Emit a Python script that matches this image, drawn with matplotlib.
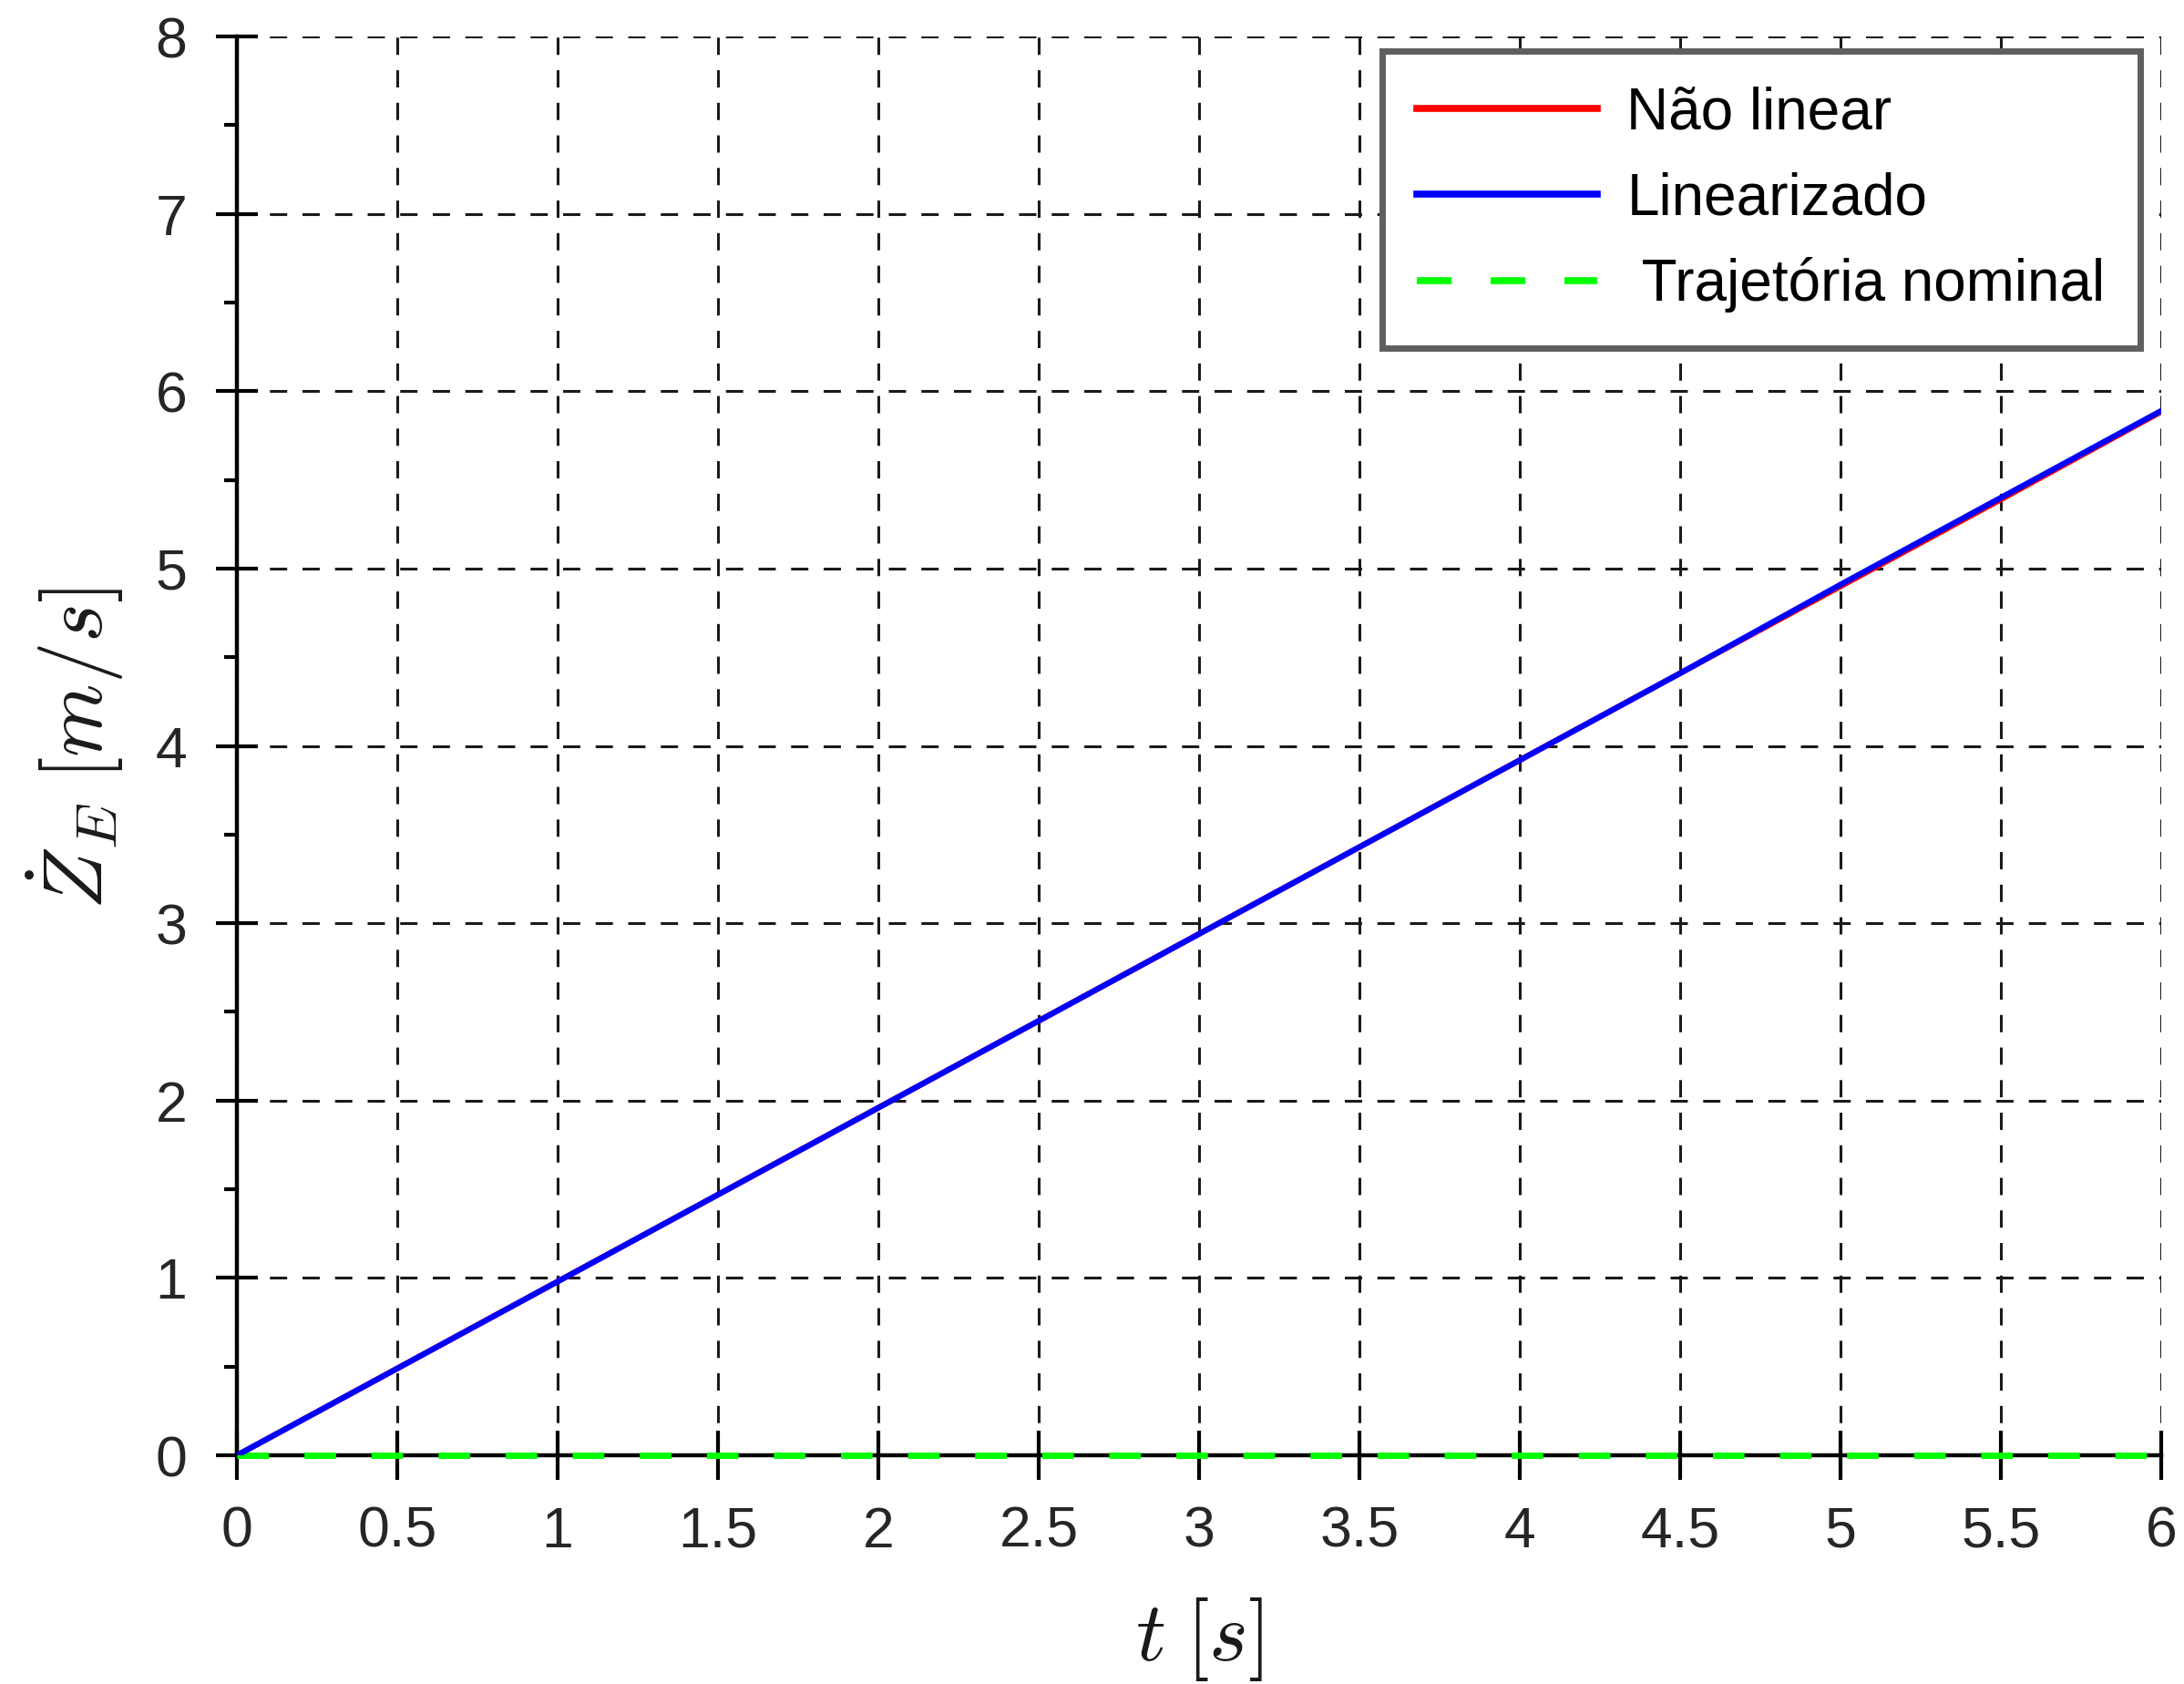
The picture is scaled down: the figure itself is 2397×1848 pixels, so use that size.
import matplotlib
matplotlib.use("Agg")
import matplotlib.pyplot as plt
from matplotlib.ticker import MultipleLocator

# Time samples [s]
t = [0.0, 0.5, 1.0, 1.5, 2.0, 2.5, 3.0, 3.5, 4.0, 4.5, 5.0, 5.5, 6.0]
# Vertical velocity, non-linear model [m/s]
zdot_nonlinear = [0.00, 0.49, 0.98, 1.47, 1.96, 2.45, 2.94, 3.43, 3.92, 4.41, 4.90, 5.39, 5.885]
# Vertical velocity, linearized model [m/s]
zdot_linear = [0.00, 0.49, 0.98, 1.47, 1.96, 2.45, 2.94, 3.43, 3.92, 4.41, 4.91, 5.40, 5.89]
# Nominal trajectory [m/s]
zdot_nominal = [0.0] * 13

labels = ["Não linear", "Linearizado", " Trajetória nominal"]
x_ticks = [0, 0.5, 1, 1.5, 2, 2.5, 3, 3.5, 4, 4.5, 5, 5.5, 6]
x_tick_labels = ["0", "0.5", "1", "1.5", "2", "2.5", "3", "3.5", "4", "4.5", "5", "5.5", "6"]
y_ticks = [0, 1, 2, 3, 4, 5, 6, 7, 8]

plt.rcParams["font.family"] = ["Liberation Sans", "DejaVu Sans"]
plt.rcParams["mathtext.fontset"] = "cm"

fig = plt.figure(figsize=(23.97, 18.48), dpi=100)
ax = fig.add_axes([0.1085, 0.1358, 0.8811, 0.8425])

ax.plot(t, zdot_nonlinear, color="#ff0000", lw=4.5, zorder=3.5, label=labels[0])
ax.plot(t, zdot_linear, color="#0000ff", lw=4.5, zorder=4, label=labels[1])
ax.plot(t, zdot_nominal, color="#00ff00", lw=5.0, linestyle=(0, (5.0, 5.6)),
        zorder=3, clip_on=False, label=labels[2])

ax.set_xlim(0, 6)
ax.set_ylim(0, 8)
ax.set_xticks(x_ticks)
ax.set_xticklabels(x_tick_labels)
ax.set_yticks(y_ticks)
ax.yaxis.set_minor_locator(MultipleLocator(0.5))

ax.grid(True, which="major", color="#1a1a1a", linestyle=(0, (6.2, 5.5)), linewidth=2.2)

for side in ("top", "right"):
    ax.spines[side].set_visible(False)
for side in ("left", "bottom"):
    ax.spines[side].set_linewidth(3.2)
    ax.spines[side].set_color("black")

ax.tick_params(axis="y", which="major", direction="inout", length=33, width=3,
               pad=23, labelsize=45, labelcolor="#262626")
ax.tick_params(axis="y", which="minor", direction="out", length=10, width=3)
ax.tick_params(axis="x", which="major", direction="inout", length=39, width=3,
               pad=20, labelsize=45, labelcolor="#262626")

ax.set_xlabel(r"$t\;[s]$", fontsize=66, color="#1a1a1a")
ax.set_ylabel(r"$\dot{Z}_E\;[m/s]$", fontsize=66, color="#1a1a1a")
ax.xaxis.set_label_coords(0.5, -0.099)
ax.yaxis.set_label_coords(-0.058, 0.498)

leg = ax.legend(loc="upper right", bbox_to_anchor=(0.989, 0.9897), borderaxespad=0,
                fontsize=46, frameon=True, fancybox=False, framealpha=1,
                edgecolor="#5f5f5f", handlelength=3.1, handletextpad=0.5,
                labelspacing=0.53, borderpad=0.6)
leg.get_frame().set_linewidth(5)
for h in leg.get_lines():
    h.set_linewidth(5.5)

fig.savefig("out.png", dpi=100, facecolor="white")
